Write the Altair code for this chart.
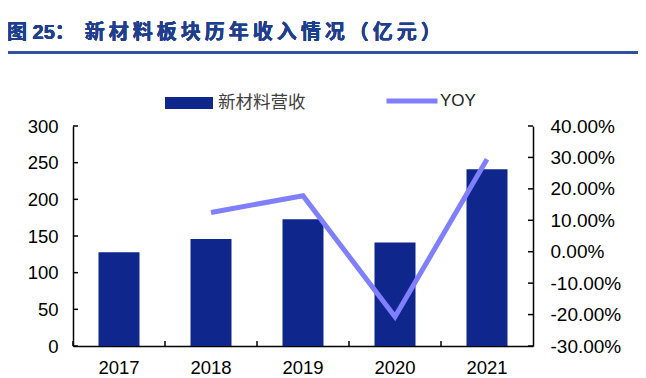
import altair as alt
import pandas as pd

# ---- data ----
years = ["2017", "2018", "2019", "2020", "2021"]
revenue = [128, 146, 173, 141, 241]
yoy = [None, 0.125, 0.178, -0.207, 0.294]
left_ticks = [0, 50, 100, 150, 200, 250, 300]
right_ticks = [-0.3, -0.2, -0.1, 0.0, 0.1, 0.2, 0.3, 0.4]
series_bar = "新材料营收"
series_line = "YOY"
title_text = "图 25：\u2002" + "\u2009".join("新材料板块历年收入情况") + "\u2009" + "\u2009".join("（亿元）")

BAR = "#0F268C"
LINE = "#7F7FFF"
TITLE_C = "#1F3E8E"
NUM_FONT = "Liberation Sans"
CJK_FONT = "Noto Sans CJK SC"

df = pd.DataFrame({"year": years, "revenue": revenue, "yoy": yoy})
df["s1"] = series_bar
df["s2"] = series_line
df_lt = pd.DataFrame({"v": left_ticks})
df_rt = pd.DataFrame({"v": right_ticks})
df_xt = pd.DataFrame({"year": years})

xscale = alt.Scale(type="band", domain=years, paddingInner=0, paddingOuter=0)
lscale = alt.Scale(domain=[0, 300], nice=False, zero=False)
rscale = alt.Scale(domain=[-0.3, 0.4], nice=False, zero=False)

xaxis = alt.Axis(title=None, labelAngle=0, ticks=False, domain=True,
                 domainColor="#000", domainWidth=1.5, labelPadding=12,
                 labelFontSize=18.5, labelFont=NUM_FONT, labelColor="#000")

bars = alt.Chart(df).mark_bar(size=41).encode(
    x=alt.X("year:N", scale=xscale, sort=years, axis=xaxis),
    y=alt.Y("revenue:Q", scale=lscale,
            axis=alt.Axis(title=None, orient="left", values=left_ticks, ticks=False,
                          grid=False, domainColor="#000", domainWidth=1.5,
                          labelPadding=15, labelFontSize=18.5, labelFont=NUM_FONT,
                          labelColor="#000")),
    color=alt.Color("s1:N", scale=alt.Scale(domain=[series_bar], range=[BAR]),
                    legend=alt.Legend(title=None, orient="none", legendX=92, legendY=-47,
                                      symbolType="M-1,-0.25H1V0.25H-1Z", symbolSize=2304,
                                      symbolStrokeWidth=0, symbolOpacity=1,
                                      labelFont=CJK_FONT, labelFontSize=17.5,
                                      labelColor="#404040", labelOffset=5, padding=0)),
)

line = alt.Chart(df).mark_line(strokeWidth=5).encode(
    x=alt.X("year:N", scale=xscale, sort=years, axis=xaxis),
    y=alt.Y("yoy:Q", scale=rscale,
            axis=alt.Axis(title=None, orient="right", values=right_ticks,
                          labelExpr="replace(format(datum.value, '.2%'), '\u2212', '-')",
                          ticks=False, grid=False, domainColor="#000", domainWidth=1.5,
                          labelPadding=17, labelFontSize=19, labelFont=NUM_FONT,
                          labelColor="#000")),
    stroke=alt.Stroke("s2:N", scale=alt.Scale(domain=[series_line], range=[LINE]),
                      legend=alt.Legend(title=None, orient="none", legendX=311, legendY=-53,
                                        symbolType="stroke", symbolSize=2601,
                                        symbolStrokeWidth=5, labelFont=NUM_FONT,
                                        labelFontSize=17, labelColor="#222",
                                        labelOffset=0, padding=0)),
)

lt = alt.Chart(df_lt).mark_rule(color="#000", strokeWidth=1.5).encode(
    y=alt.Y("v:Q", scale=lscale, axis=None), x=alt.value(0), x2=alt.value(5))
rt = alt.Chart(df_rt).mark_rule(color="#000", strokeWidth=1.5).encode(
    y=alt.Y("v:Q", scale=rscale, axis=None), x=alt.value(455), x2=alt.value(460))
xt = alt.Chart(df_xt).mark_rule(color="#000", strokeWidth=1.5).encode(
    x=alt.X("year:N", scale=xscale, sort=years, bandPosition=0, axis=xaxis),
    y=alt.value(215), y2=alt.value(220))

title = alt.Chart(df_xt).mark_text(align="left", baseline="middle",
                                   font="Liberation Sans, Noto Sans CJK SC",
                                   fontSize=20, fontWeight="bold", color=TITLE_C).encode(
    x=alt.value(-66), y=alt.value(-93), text=alt.value(title_text))
underline = alt.Chart(df_xt).mark_rule(color="#2E4FA0", strokeWidth=2).encode(
    x=alt.value(-70), x2=alt.value(570), y=alt.value(-73.5))

chart = alt.layer(bars, lt, xt, line, rt, title, underline).resolve_scale(
    y="independent", color="independent", stroke="independent"
).properties(
    width=460, height=220,
    autosize=alt.AutoSizeParams(type="none"),
    padding={"left": 65, "top": 118, "right": 105, "bottom": 30},
).configure_view(stroke=None)

chart.save("out.html", embed_options={"renderer": "svg", "actions": False})
